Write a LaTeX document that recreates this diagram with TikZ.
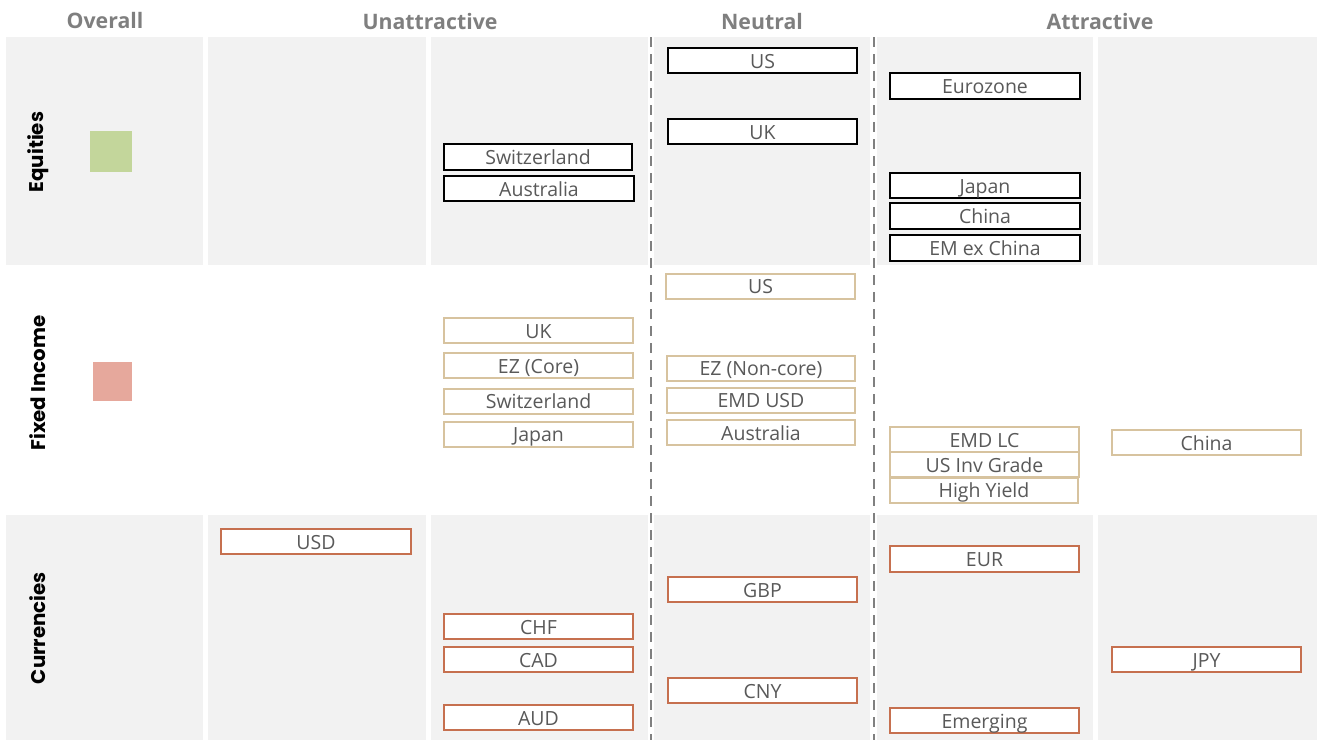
\documentclass[tikz,border=0pt]{standalone}
\usepackage{fontspec}
\setmainfont{Open Sans}
\newfontfamily\rowfont{Poppins}
\definecolor{panelgray}{HTML}{F2F2F2}
\definecolor{boxtext}{HTML}{595959}
\definecolor{headgray}{HTML}{7F7F7F}
\definecolor{tanline}{HTML}{D7C39F}
\definecolor{redline}{HTML}{C6704F}
\definecolor{eqgreen}{HTML}{C3D69B}
\definecolor{fired}{HTML}{E6A89C}
\definecolor{dashgray}{HTML}{808080}
\begin{document}
\begin{tikzpicture}[x=1pt,y=-1pt,
  panel/.style={fill=panelgray,draw=none},
  header/.style={text=headgray,font=\fontsize{21.3}{21.3}\selectfont\bfseries},
  rowlabel/.style={rotate=90,text=black,font=\rowfont\fontsize{19.8}{19.8}\selectfont\bfseries},
  basebox/.style={rectangle,fill=white,minimum width=189pt,minimum height=25pt,inner sep=0pt,
    text=boxtext,font=\fontsize{19.5}{19.5}\selectfont,text height=15.5pt,text depth=0.5pt},
  eqbox/.style={basebox,draw=black,line width=1.6pt},
  fibox/.style={basebox,draw=tanline,line width=2pt},
  fxbox/.style={basebox,draw=redline,line width=2pt},
  divider/.style={draw=dashgray,line width=2pt,dash pattern=on 10pt off 7pt}]
\useasboundingbox (0,0) rectangle (1317,740);
% panels
\foreach \xa/\xb in {6/203,208/426,431/648,654/870,877/1093,1098/1317}{
  \fill[panel] (\xa,37) rectangle (\xb,265);
  \fill[panel] (\xa,515) rectangle (\xb,740);
}
% dividers
\coordinate (d1t) at (651,37); \coordinate (d1b) at (651,740);
\coordinate (d2t) at (874,37); \coordinate (d2b) at (874,740);
\draw[divider] (d1t) -- (d1b);
\draw[divider] (d2t) -- (d2b);
% headers
\node[header] (hov) at (105,21) {Overall};
\node[header] (hun) at (430,22) {Unattractive};
\node[header] (hne) at (762,22) {Neutral};
\node[header] (hat) at (1100,22) {Attractive};
% row labels
\node[rowlabel] (req) at (38,152) {Equities};
\node[rowlabel] (rfi) at (38,383) {Fixed Income};
\node[rowlabel] (rcu) at (38,628) {Currencies};
% overall squares
\fill[eqgreen] (90,131) rectangle (132,172);
\fill[fired] (93,362) rectangle (132,401);
% equities
\node[eqbox,minimum width=188pt,minimum height=26pt] (sw1) at (538,157) {Switzerland};
\node[eqbox,minimum width=190pt] (au1) at (539,188.5) {Australia};
\node[eqbox] (us1) at (762.5,60.5) {US};
\node[eqbox] (uk1) at (762.5,131.5) {UK};
\node[eqbox,minimum width=190pt,minimum height=26pt] (ez1) at (985,86) {Eurozone};
\node[eqbox,minimum width=190pt] (jp1) at (985,185.5) {Japan};
\node[eqbox,minimum width=190pt,minimum height=26pt] (cn1) at (985,216) {China};
\node[eqbox,minimum width=190pt,minimum height=26pt] (em1) at (985,248) {EM ex China};
% fixed income
\node[fibox] (us2) at (760.5,286) {US};
\node[fibox] (uk2) at (538.5,330.5) {UK};
\node[fibox] (ezc2) at (538.5,365.5) {EZ (Core)};
\node[fibox] (sw2) at (538.5,401) {Switzerland};
\node[fibox] (jp2) at (538.5,434) {Japan};
\node[fibox,minimum width=188pt] (ezn2) at (761,368) {EZ (Non-core)};
\node[fibox,minimum width=188pt] (emd2) at (761,400) {EMD USD};
\node[fibox,minimum width=188pt] (au2) at (761,432.5) {Australia};
\node[fibox] (emdlc2) at (984.5,439.5) {EMD LC};
\node[fibox] (usig2) at (984.5,464.5) {US Inv Grade};
\node[fibox,minimum width=188pt] (hy2) at (984,490) {High Yield};
\node[fibox] (cn2) at (1206.5,442.5) {China};
% currencies
\node[fxbox,minimum width=190pt] (usd3) at (316,541.5) {USD};
\node[fxbox] (chf3) at (538.5,626.5) {CHF};
\node[fxbox] (cad3) at (538.5,659.5) {CAD};
\node[fxbox] (aud3) at (538.5,717.5) {AUD};
\node[fxbox] (gbp3) at (762.5,589.5) {GBP};
\node[fxbox] (cny3) at (762.5,690.5) {CNY};
\node[fxbox,minimum height=26pt] (eur3) at (984.5,559) {EUR};
\node[fxbox] (emg3) at (984.5,720.5) {Emerging};
\node[fxbox] (jpy3) at (1206.5,659.5) {JPY};
\end{tikzpicture}
\end{document}
